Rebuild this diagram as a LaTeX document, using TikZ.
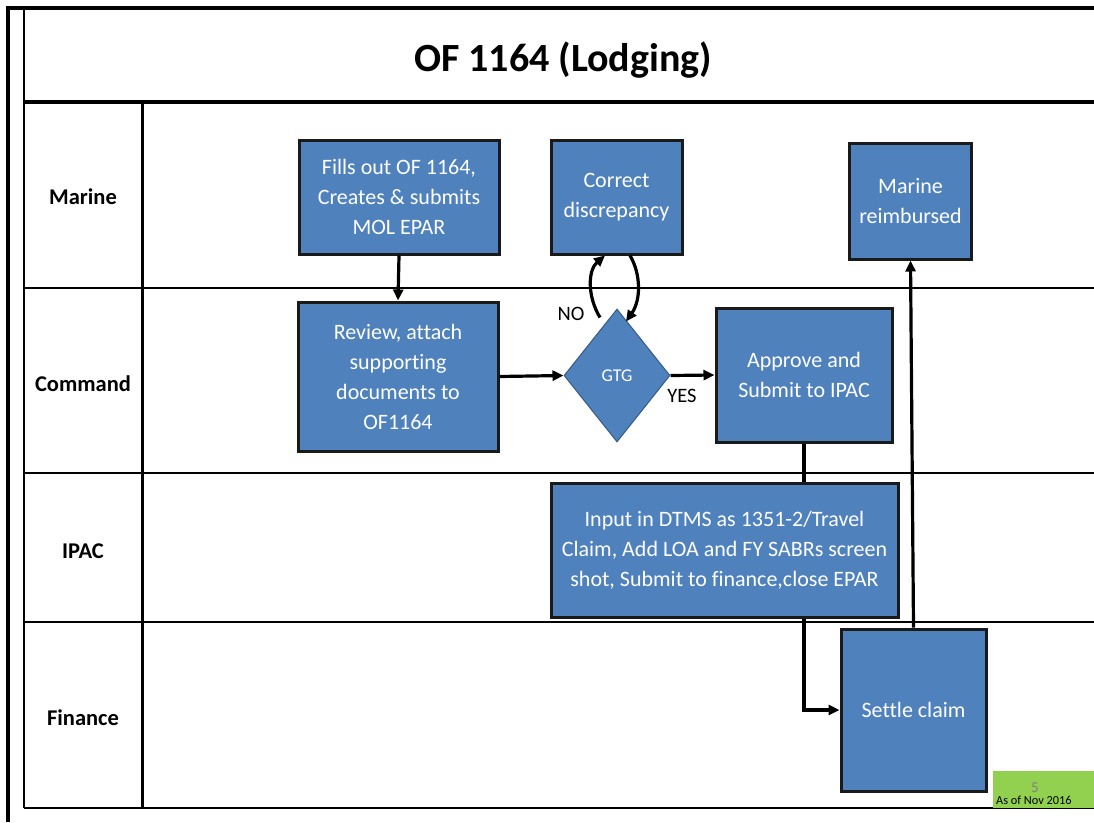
\documentclass[tikz,border=0pt]{standalone}
\usepackage{fontspec}
\setmainfont{Carlito}[Ligatures=NoCommon]
\usetikzlibrary{shapes.geometric,arrows.meta,calc,backgrounds}
\definecolor{boxblue}{HTML}{4F81BD}
\definecolor{tagreen}{HTML}{92D050}
\definecolor{edgedark}{HTML}{1A1A1A}
\tikzset{
  procbox/.style={draw=edgedark, line width=3pt, fill=boxblue, text=white, align=center,
    inner sep=0pt, font=\fontsize{22}{30}\selectfont},
  decbox/.style={shape=diamond, draw=boxblue!70!black, line width=1pt, fill=boxblue, text=white,
    inner sep=0pt, minimum width=106pt, minimum height=133pt, font=\fontsize{18}{20}\selectfont},
  lanelabel/.style={font=\bfseries\fontsize{22.5}{26}\selectfont, text=black},
  gridline/.style={line width=2.4pt, black},
  flow/.style={line width=3.2pt, black, -{Triangle[length=11pt,width=10pt]}},
  note/.style={font=\fontsize{20.5}{22}\selectfont, text=black}
}
\begin{document}
\begin{tikzpicture}[x=1pt,y=-1pt]
\useasboundingbox (0,0) rectangle (1094,822);
% frame and grid
\draw[line width=3.5pt] (8,822) -- (8,8) -- (1094,8);
\draw[gridline] (24,8) -- (24,808);
\draw[line width=3.5pt] (24,102) -- (1094,102);
\draw[gridline] (24,288) -- (1094,288);
\draw[gridline] (24,473) -- (1094,473);
\draw[gridline] (24,622) -- (1094,622);
\draw[gridline] (24,808) -- (1094,808);
\draw[line width=3pt] (142,102) -- (142,808);

% title and lane labels
\node[font=\bfseries\fontsize{40}{44}\selectfont] (title) at (563,60) {OF 1164 (Lodging)};
\node[lanelabel] (lmarine) at (83,197) {Marine};
\node[lanelabel] (lcommand) at (83,384) {Command};
\node[lanelabel] (lipac) at (83,551) {IPAC};
\node[lanelabel] (lfinance) at (83,718) {Finance};

% process nodes
\node[procbox, minimum width=200pt, minimum height=114pt] (fill) at (399,197)
  {Fills out OF 1164,\\Creates \& submits\\MOL EPAR};
\node[procbox, minimum width=131pt, minimum height=114pt] (correct) at (616.5,197)
  {Correct\\discrepancy};
\node[procbox, minimum width=122pt, minimum height=116pt] (reimb) at (910.5,201)
  {Marine\\reimbursed};
\node[procbox, minimum width=200pt, minimum height=149pt] (review) at (398,376.5)
  {Review, attach\\supporting\\documents to\\OF1164};
\node[decbox] (gtg) at (617,375.5) {GTG};
\node[procbox, minimum width=176pt, minimum height=134pt] (approve) at (804,375)
  {Approve and\\Submit to IPAC};
\node[procbox, minimum width=145pt, minimum height=162pt] (settle) at (913.5,710)
  {Settle claim};

% connector behind the IPAC box
\begin{scope}[on background layer]
\draw[flow] (approve.south) |- (settle.west);
\end{scope}
\node[procbox, minimum width=347pt, minimum height=134pt] (input) at (724.5,550)
  {Input in DTMS as 1351-2/Travel\\Claim, Add LOA and FY SABRs screen\\shot, Submit to finance,close EPAR};

% connectors
\draw[flow] (fill.south) -- (review.north);
\draw[flow] (review.east) -- (gtg.west);
\draw[flow] (gtg.east) -- (approve.west);
\draw[flow] (settle.north) -- (reimb.south);
\draw[flow] ($(gtg.north)+(-17,9)$) .. controls (587,296) and (588,270) .. ($(correct.south)+(-11.5,0)$);
\draw[flow] ($(correct.south)+(13.5,0)$) .. controls (641,274) and (641,300) .. ($(gtg.north)+(9,13)$);

% labels
\node[note] (no) at (571,314) {NO};
\node[note] (yes) at (682,396) {YES};

% footer tag
\node[fill=tagreen, minimum width=101pt, minimum height=37pt, inner sep=0pt] (tag) at (1043.5,789.5) {};
\node[text=gray, font=\fontsize{15}{16}\selectfont] (pnum) at (1035,788) {5};
\node[anchor=south west, font=\fontsize{12.3}{13}\selectfont, inner sep=0pt] (asof) at (996,805) {As of Nov 2016};
\end{tikzpicture}
\end{document}
